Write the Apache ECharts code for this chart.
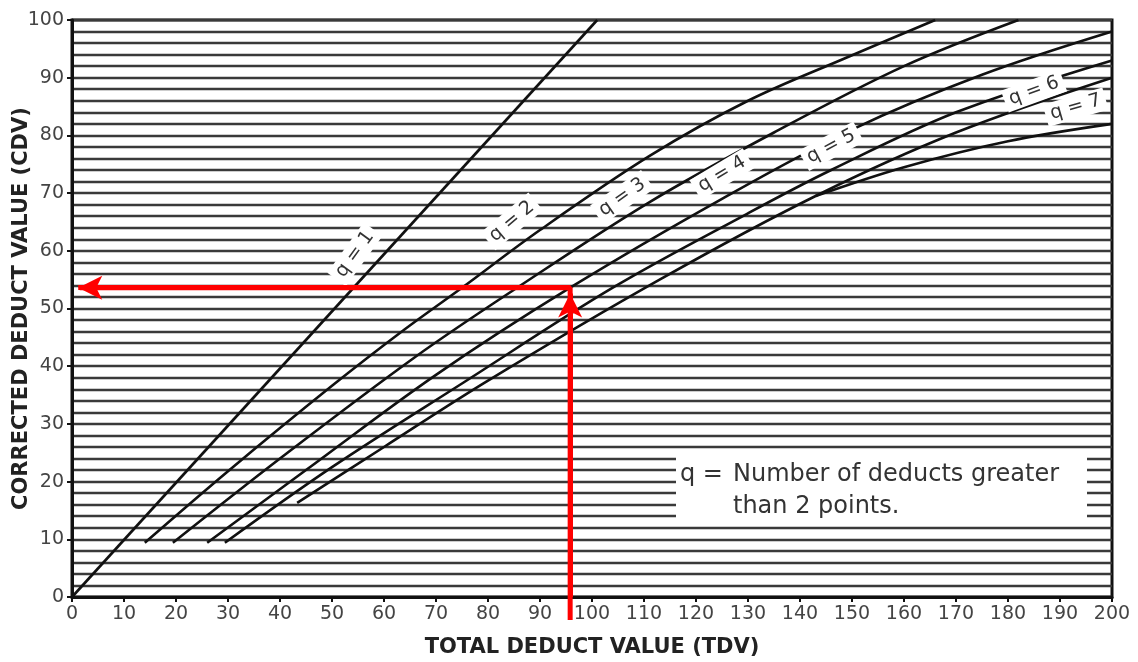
<!DOCTYPE html>
<html>
<head>
<meta charset="utf-8">
<script src="https://cdn.jsdelivr.net/npm/echarts@6/dist/echarts.min.js"></script>
<style>
html,body{margin:0;padding:0;background:#fff;}
#chart{width:1138px;height:662px;}
</style>
</head>
<body>
<div id="chart"></div>
<script>
// Curves: [TDV, CDV] pairs
const q1 = [[0,0],[101,100]];
const q2 = [[14,9.4],[30,21.8],[50,36.6],[64,46.4],[75,53.6],[90,63.6],[111,76.4],[130,86],[149,93.5],[166,100]];
const q3 = [[19.4,9.4],[40,24],[66,41.6],[85.6,53.6],[111,68.4],[135,80.5],[160,92],[182,100]];
const q4 = [[26,9.4],[45,22],[70,38.5],[95.8,53.6],[125,69],[150,81],[175,90.5],[200,98]];
const q5 = [[29.4,9.4],[50,22.5],[75,37],[104,53.6],[130,66.5],[146,74],[170,84],[200,93]];
const q6 = [[43.3,16.3],[60,26],[80,37.5],[113,55],[143,69.5],[170,80.5],[200,90]];
const q7 = [[143,69.5],[160,74.5],[180,79],[200,82]];
const curveNames = ['q = 1','q = 2','q = 3','q = 4','q = 5','q = 6','q = 7'];
// label anchor points [TDV, CDV] and rotation
const labelPoints = [[54.4,59.4],[84.6,65.1],[105.8,69.3],[125,73.3],[146,78.1],[185,87.7],[193,84.9]];
const labelAngles = [54,40,35,31,28,20,16];
// worked example
const exampleTDV = 95.8;
const exampleCDV = 53.6;
const xTitle = 'TOTAL DEDUCT VALUE (TDV)';
const yTitle = 'CORRECTED DEDUCT VALUE (CDV)';
const noteLead = 'q =';
const noteLines = ['Number of deducts greater', 'than 2 points.'];

const curves = [q1,q2,q3,q4,q5,q6,q7];
const chart = echarts.init(document.getElementById('chart'));
const font = 'DejaVu Sans';

const series = curves.map((c,i)=>({
  type:'line', name:curveNames[i], data:c, smooth:0.35, showSymbol:false, symbol:'none',
  lineStyle:{color:'#111', width:2.6}, z:3, silent:true
}));

series.push({
  type:'scatter', symbolSize:0, z:4, silent:true,
  itemStyle:{opacity:1},
  data: labelPoints.map((p,i)=>({value:p, label:{formatter:curveNames[i], rotate:labelAngles[i]}})),
  label:{show:true, position:'inside', color:'#333', fontFamily:font, fontSize:19, opacity:1,
         backgroundColor:'#ffffff', padding:[2,5]}
});

series.push({
  type:'line', data:[[exampleTDV,-4],[exampleTDV,exampleCDV],[1.5,exampleCDV]],
  showSymbol:false, symbol:'none', clip:false, z:6, silent:true,
  lineStyle:{color:'#ff0000', width:5},
  markLine:{
    silent:true, symbol:['none','arrow'], symbolSize:[18,24], animation:false,
    lineStyle:{color:'#ff0000', width:5, type:'solid'}, label:{show:false},
    data:[
      [{coord:[exampleTDV,0]},{coord:[exampleTDV,52.6]}],
      [{coord:[exampleTDV,exampleCDV]},{coord:[1.2,exampleCDV]}]
    ]
  }
});

chart.setOption({
  animation:false,
  backgroundColor:'#fff',
  grid:{left:72, right:26, top:20, bottom:65, containLabel:false, outerBoundsMode:'none',
        show:true, borderColor:'#111', borderWidth:3, backgroundColor:'#fff'},
  xAxis:{
    type:'value', min:0, max:200, interval:10,
    name:xTitle, nameLocation:'middle', nameGap:40, nameMoveOverlap:false,
    nameTextStyle:{fontFamily:font, fontWeight:'bold', fontSize:21, color:'#222'},
    axisLine:{show:true, lineStyle:{color:'#111', width:3}},
    axisTick:{show:true, length:5, lineStyle:{color:'#111', width:2}},
    axisLabel:{fontFamily:font, fontSize:19, color:'#444', margin:8},
    splitLine:{show:false}
  },
  yAxis:{
    type:'value', min:0, max:100, interval:10,
    name:yTitle, nameLocation:'middle', nameGap:40, nameRotate:90, nameMoveOverlap:false,
    nameTextStyle:{fontFamily:font, fontWeight:'bold', fontSize:21, color:'#222'},
    axisLine:{show:true, lineStyle:{color:'#111', width:3}},
    axisTick:{show:true, length:5, lineStyle:{color:'#111', width:2}},
    axisLabel:{fontFamily:font, fontSize:19, color:'#444', margin:8},
    splitLine:{show:true, lineStyle:{color:'#3a3a3a', width:2.4}},
    minorTick:{show:false, splitNumber:5},
    minorSplitLine:{show:true, lineStyle:{color:'#3a3a3a', width:2.4}}
  },
  graphic:[
    {type:'rect', left:676, top:455, z:100, shape:{width:411,height:66}, style:{fill:'#fff'}},
    {type:'text', left:680, top:459, z:101, style:{text:noteLead, fontFamily:font, fontSize:24, lineHeight:32, fill:'#333'}},
    {type:'text', left:733, top:459, z:101, style:{text:noteLines.join('\n'), fontFamily:font, fontSize:24, lineHeight:32, fill:'#333'}}
  ],
  series:series
});
</script>
</body>
</html>
